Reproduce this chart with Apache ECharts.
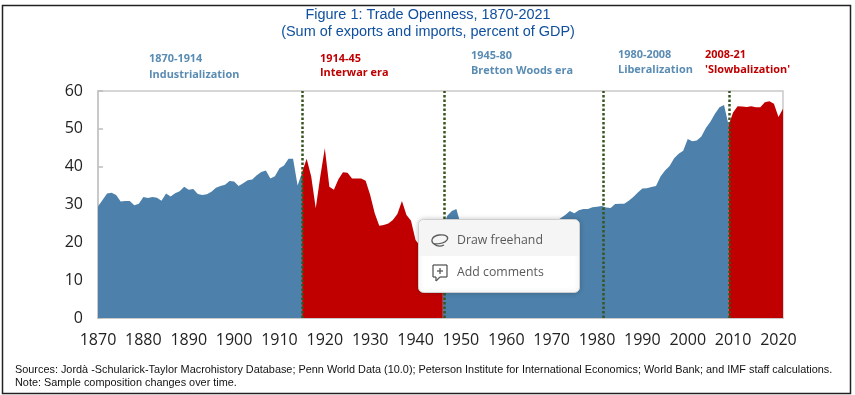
<!DOCTYPE html>
<html>
<head>
<meta charset="utf-8">
<style>
	html, body { margin: 0; padding: 0; background: #fff; }
	#chart { width: 855px; height: 395px; }
</style>
<script src="https://cdn.jsdelivr.net/npm/echarts@6/dist/echarts.min.js"></script>
</head>
<body>
<div id="chart"></div>
<script>
// values, 1870-2021 (the stretches under the popup are estimates)
const firstYear = 1870;
const openness = [
	29.5, 31.2, 32.9, 33.1, 32.5, 30.8, 30.9, 30.9, 29.8, 30.2,
	32.0, 31.7, 32.0, 31.8, 31.0, 32.9, 32.1, 33.0, 33.5, 34.7,
	33.9, 34.1, 32.8, 32.5, 32.7, 33.4, 34.4, 34.9, 35.2, 36.2,
	36.1, 34.9, 35.6, 36.4, 36.6, 37.7, 38.6, 39.0, 36.9, 37.5,
	39.6, 40.3, 42.1, 42.1, 35.0, 38.5, 42.1, 37.4, 29.0, 37.4,
	44.9, 34.7, 33.9, 36.7, 38.5, 38.4, 36.9, 36.9, 36.9, 36.3,
	32.5, 27.7, 24.4, 24.6, 25.0, 25.9, 27.5, 30.9, 27.2, 25.7,
	20.6, 19.0, 19.0, 19.5, 20.0, 22.0, 24.0, 27.0, 28.3, 28.8,
	24.5, 25.0, 24.0, 23.5, 23.0, 23.5, 24.0, 24.0, 23.5, 23.0,
	23.5, 24.0, 24.0, 24.5, 24.5, 25.0, 25.0, 25.0, 25.5, 25.5,
	25.5, 25.5, 26.4, 27.2, 28.3, 27.7, 28.5, 28.8, 28.8, 29.3,
	29.4, 29.6, 29.2, 29.1, 30.1, 30.2, 30.2, 31.0, 32.0, 33.2,
	34.2, 34.3, 34.6, 34.9, 37.4, 39.0, 40.2, 42.2, 43.4, 44.2,
	47.3, 46.7, 46.9, 48.0, 50.2, 51.9, 54.0, 55.7, 56.3, 51.0,
	54.3, 56.0, 55.9, 55.8, 56.0, 55.7, 55.7, 57.0, 57.3, 56.6,
	53.1, 55.3,
];
const blueSpans = [[1870, 1915], [1946, 2009]];
const redSpans = [[1915, 1946], [2009, 2021]];
const eraBreaks = [1915.1, 1946.3, 1981.4, 2009.2];
const yTicks = [0, 60, 10];
const titleLines = ["Figure 1: Trade Openness, 1870-2021", "(Sum of exports and imports, percent of GDP)"];
const sourceNotes = [
	"Sources: Jordà -Schularick-Taylor Macrohistory Database; Penn World Data (10.0); Peterson Institute for International Economics; World Bank; and IMF staff calculations.",
	"Note: Sample composition changes over time.",
];

const BLUE = "#4d81ab";
const RED = "#c00000";
const ERA_BLUE = "#5a8cb3";
const ICON = { fill: "none", stroke: "#5a5a5a", lineWidth: 1.3 };

// picks out the years inside the spans, the others stay empty so the area breaks
function pickSpans(spans) {
	return openness.map((v, i) => {
		const year = firstYear + i;
		const inside = spans.some((s) => year >= s[0] && year <= s[1]);
		return [year, inside ? v : null];
	});
}

function areaSeries(name, spans, color) {
	return {
		name: name,
		type: "line",
		data: pickSpans(spans),
		symbol: "none",
		connectNulls: false,
		lineStyle: { width: 0 },
		itemStyle: { color: color },
		areaStyle: { color: color, opacity: 1 },
	};
}

function eraLabel(x, y, text, color) {
	return {
		type: "text",
		x: x,
		y: y,
		style: { text: text, fill: color, font: 'bold 10.9px "Open Sans", sans-serif', textVerticalAlign: "middle" },
	};
}

function centerTitle(y, text) {
	return {
		type: "text",
		x: 428,
		y: y,
		style: { text: text, fill: "#0f4f9e", font: '14.45px "Liberation Sans", Arial, sans-serif', textAlign: "center", textVerticalAlign: "middle" },
	};
}

function noteLine(y, text) {
	return {
		type: "text",
		x: 15,
		y: y,
		style: { text: text, fill: "#111", font: '10.88px "Liberation Sans", Arial, sans-serif', textVerticalAlign: "middle" },
	};
}

function popupText(y, text) {
	return {
		type: "text",
		x: 457,
		y: y,
		z: 102,
		style: { text: text, fill: "#5a5a5a", font: '12.3px "Open Sans", sans-serif', textVerticalAlign: "middle" },
	};
}

function iconCurve(x1, y1, cpx1, cpy1, cpx2, cpy2, x2, y2) {
	return {
		type: "bezierCurve",
		z: 102,
		shape: { x1: x1, y1: y1, cpx1: cpx1, cpy1: cpy1, cpx2: cpx2, cpy2: cpy2, x2: x2, y2: y2 },
		style: ICON,
	};
}

function iconLine(x1, y1, x2, y2) {
	return {
		type: "line",
		z: 102,
		shape: { x1: x1, y1: y1, x2: x2, y2: y2 },
		style: ICON,
	};
}

let myChart = echarts.init(document.getElementById("chart"), null, { renderer: "canvas" });

const option = {
	animation: false,
	backgroundColor: "#fff",
	grid: {
		left: 98,
		right: 72,
		top: 91,
		bottom: 77,
		show: true,
		borderColor: "#c9c9c9",
		borderWidth: 1.5,
	},
	xAxis: {
		type: "value",
		min: firstYear,
		max: firstYear + openness.length - 1,
		interval: 10,
		splitLine: { show: false },
		axisTick: { show: false },
		axisLine: { lineStyle: { color: "#c9c9c9", width: 2 } },
		axisLabel: {
			color: "#222",
			fontSize: 16,
			fontFamily: "Open Sans",
			margin: 14,
			showMaxLabel: false,
			formatter: (v) => String(v),
		},
	},
	yAxis: {
		type: "value",
		min: yTicks[0],
		max: yTicks[1],
		interval: yTicks[2],
		splitLine: { show: false },
		axisLine: { show: true, lineStyle: { color: "#c9c9c9", width: 2 } },
		axisTick: { show: true, inside: true, length: 5, lineStyle: { color: "#bdbdbd", width: 1.5 } },
		axisLabel: { color: "#222", fontSize: 16, fontFamily: "Open Sans", margin: 15, padding: [2, 0, 0, 0] },
	},
	series: [
		areaSeries("Trade openness", blueSpans, BLUE),
		areaSeries("Trade openness, break eras", redSpans, RED),
		{
			name: "Era breaks",
			type: "line",
			data: [],
			z: 5,
			markLine: {
				silent: true,
				symbol: "none",
				label: { show: false },
				lineStyle: { color: "#37561f", width: 2.5, type: [2.5, 2] },
				data: eraBreaks.map((y) => ({ xAxis: y })),
			},
		},
	],
	graphic: [
		// outer frame
		{ type: "rect", shape: { x: 2.5, y: 5.5, width: 848, height: 388 }, style: { fill: "none", stroke: "#222", lineWidth: 1.5 } },
		centerTitle(15, titleLines[0]),
		centerTitle(32, titleLines[1]),
		eraLabel(149, 59, "1870-1914", ERA_BLUE),
		eraLabel(149, 75, "Industrialization", ERA_BLUE),
		eraLabel(320, 59, "1914-45", RED),
		eraLabel(320, 73, "Interwar era", RED),
		eraLabel(471, 56, "1945-80", ERA_BLUE),
		eraLabel(471, 71, "Bretton Woods era", ERA_BLUE),
		eraLabel(618, 55, "1980-2008", ERA_BLUE),
		eraLabel(618, 70, "Liberalization", ERA_BLUE),
		eraLabel(705, 55, "2008-21", RED),
		eraLabel(705, 70, "'Slowbalization'", RED),
		noteLine(370, sourceNotes[0]),
		noteLine(383, sourceNotes[1]),
		// context menu sitting over the chart
		{
			type: "rect",
			z: 100,
			shape: { x: 418.5, y: 219.5, width: 161, height: 73, r: 5 },
			style: { fill: "#fff", stroke: "#cfcfcf", lineWidth: 1, shadowBlur: 5, shadowColor: "rgba(0,0,0,.2)" },
		},
		{ type: "rect", z: 101, shape: { x: 419, y: 220, width: 160, height: 36, r: [5, 5, 0, 0] }, style: { fill: "#f5f5f5" } },
		popupText(240, "Draw freehand"),
		popupText(272, "Add comments"),
		// lasso icon
		iconCurve(434, 244, 430, 241, 432, 236, 439, 235),
		iconCurve(439, 235, 446, 234, 449, 237, 447, 240),
		iconCurve(447, 240, 445, 243, 438, 244, 434, 244),
		iconCurve(434, 244, 437, 246.5, 441, 246.5, 444, 245),
		// comment icon
		iconLine(433, 265, 447, 265),
		iconLine(447, 265, 447, 277),
		iconLine(447, 277, 440, 277),
		iconLine(440, 277, 436, 281),
		iconLine(436, 281, 436, 277),
		iconLine(436, 277, 433, 277),
		iconLine(433, 277, 433, 265),
		iconLine(440, 268, 440, 274),
		iconLine(437, 271, 443, 271),
	],
};

myChart.setOption(option);
</script>
</body>
</html>
